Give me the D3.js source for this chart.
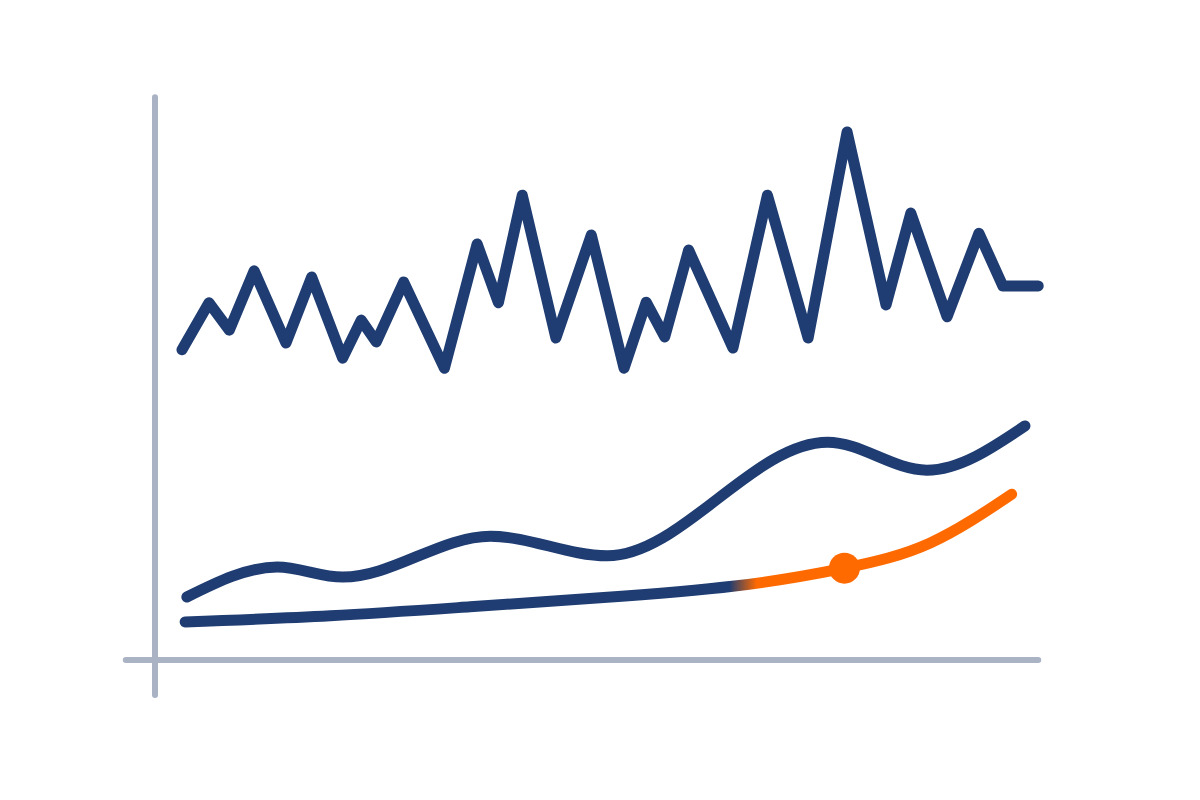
<!DOCTYPE html>
<html>
<head>
<meta charset="utf-8">
<script src="https://cdn.jsdelivr.net/npm/d3@7"></script>
<style>
  html, body { margin: 0; padding: 0; background: #ffffff; }
  svg { display: block; }
</style>
</head>
<body>
<svg id="chart" width="1200" height="800"></svg>
<script>
// ---- data ----
const volatileX = [3.05, 6.1, 8.4, 11.2, 14.8, 17.7, 21.2, 23.3, 25.0, 28.1, 32.7, 36.4, 38.8, 41.5, 45.3, 49.3, 53.0, 55.5, 57.6, 60.3, 65.3, 69.2, 73.8, 78.2, 82.6, 85.4, 89.5, 93.1, 95.8, 99.8];
const volatileY = [55.4, 63.8, 58.9, 69.5, 56.6, 68.4, 53.9, 60.7, 56.8, 67.5, 52.1, 74.3, 63.8, 83.0, 57.5, 75.9, 52.1, 63.9, 57.7, 73.2, 55.7, 83.0, 57.5, 94.3, 63.4, 79.8, 61.3, 76.2, 66.8, 66.8];

const smoothX = [3.6, 13.8, 21.2, 37.9, 51.1, 76.0, 87.2, 98.3];
const smoothY = [11.25, 16.6, 14.8, 22.1, 18.6, 38.9, 33.9, 41.8];

const trendX = [3.4, 19.8, 35.6, 50.3, 65.5, 77.9, 87.6, 96.8];
const trendY = [6.8, 7.9, 9.5, 11.1, 13.2, 16.4, 20.9, 29.6];
const highlightIndex = 5;
const gradientStart = 64.9;
const gradientEnd = 68.0;

// ---- setup ----
const svg = d3.select("#chart");
const x = d3.scaleLinear().domain([0, 100]).range([155, 1040]);
const y = d3.scaleLinear().domain([0, 100]).range([660, 100]);

const blue = "#1f3d72";
const orange = "#ff6a00";
const axisGrey = "#aab3c3";
const lineW = 11;

// axes
svg.append("line")
  .attr("x1", x(0)).attr("x2", x(0))
  .attr("y1", y(100.5)).attr("y2", y(-6.25))
  .attr("stroke", axisGrey).attr("stroke-width", 6).attr("stroke-linecap", "round");
svg.append("line")
  .attr("x1", x(-3.3)).attr("x2", x(99.8))
  .attr("y1", y(0)).attr("y2", y(0))
  .attr("stroke", axisGrey).attr("stroke-width", 6).attr("stroke-linecap", "round");

// gradient for trend line
const defs = svg.append("defs");
const grad = defs.append("linearGradient")
  .attr("id", "trendGrad")
  .attr("gradientUnits", "userSpaceOnUse")
  .attr("x1", x(gradientStart)).attr("x2", x(gradientEnd))
  .attr("y1", 0).attr("y2", 0);
grad.append("stop").attr("offset", "0%").attr("stop-color", blue);
grad.append("stop").attr("offset", "100%").attr("stop-color", orange);

// volatile line
const volData = volatileX.map((v, i) => [v, volatileY[i]]);
svg.append("path")
  .datum(volData)
  .attr("fill", "none")
  .attr("stroke", blue)
  .attr("stroke-width", lineW)
  .attr("stroke-linejoin", "round")
  .attr("stroke-linecap", "round")
  .attr("d", d3.line().x(d => x(d[0])).y(d => y(d[1])));

// smooth line
const smData = smoothX.map((v, i) => [v, smoothY[i]]);
svg.append("path")
  .datum(smData)
  .attr("fill", "none")
  .attr("stroke", blue)
  .attr("stroke-width", lineW)
  .attr("stroke-linecap", "round")
  .attr("d", d3.line().curve(d3.curveMonotoneX).x(d => x(d[0])).y(d => y(d[1])));

// trend line
const trData = trendX.map((v, i) => [v, trendY[i]]);
svg.append("path")
  .datum(trData)
  .attr("fill", "none")
  .attr("stroke", "url(#trendGrad)")
  .attr("stroke-width", lineW)
  .attr("stroke-linecap", "round")
  .attr("d", d3.line().curve(d3.curveNatural).x(d => x(d[0])).y(d => y(d[1])));

// highlight dot
svg.append("circle")
  .attr("cx", x(trendX[highlightIndex]))
  .attr("cy", y(trendY[highlightIndex]))
  .attr("r", 15.5)
  .attr("fill", orange);
</script>
</body>
</html>
